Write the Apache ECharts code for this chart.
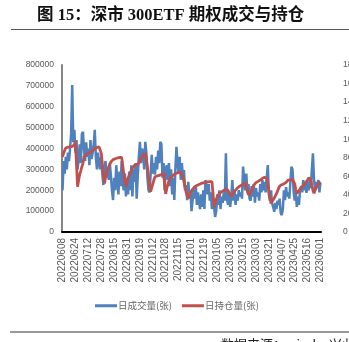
<!DOCTYPE html>
<html><head><meta charset="utf-8">
<script src="https://cdn.jsdelivr.net/npm/echarts@6/dist/echarts.min.js"></script>
<style>html,body{margin:0;padding:0;background:#fff;}#c{width:349px;height:342px;}</style>
</head><body><div id="c"></div>
<script>
var titleText = '图 15：深市 300ETF 期权成交与持仓';
var sourceText = '数据来源：wind，兴业证券研究所';
var seriesNames = ['日成交量(张)', '日持仓量(张)'];
var dates = [
'20220608','20220609','20220610','20220613','20220614','20220615','20220616','20220617','20220620','20220621','20220622','20220623','20220624','20220627','20220628','20220629','20220630',
'20220701','20220704','20220705','20220706','20220707','20220708','20220711','20220712','20220713','20220714','20220715','20220718','20220719','20220720','20220721','20220722','20220725','20220726','20220727','20220728','20220729',
'20220801','20220802','20220803','20220804','20220805','20220808','20220809','20220810','20220811','20220812','20220815','20220816','20220817','20220818','20220819','20220822','20220823','20220824','20220825','20220826','20220829','20220830','20220831',
'20220901','20220902','20220905','20220906','20220907','20220908','20220909','20220913','20220914','20220915','20220916','20220919','20220920','20220921','20220922','20220923','20220926','20220927','20220928','20220929','20220930',
'20221010','20221011','20221012','20221013','20221014','20221017','20221018','20221019','20221020','20221021','20221024','20221025','20221026','20221027','20221028','20221031',
'20221101','20221102','20221103','20221104','20221107','20221108','20221109','20221110','20221111','20221114','20221115','20221116','20221117','20221118','20221121','20221122','20221123','20221124','20221125','20221128','20221129','20221130',
'20221201','20221202','20221205','20221206','20221207','20221208','20221209','20221212','20221213','20221214','20221215','20221216','20221219','20221220','20221221','20221222','20221223','20221226','20221227','20221228','20221229','20221230',
'20230103','20230104','20230105','20230106','20230109','20230110','20230111','20230112','20230113','20230116','20230117','20230118','20230119','20230120','20230130','20230131',
'20230201','20230202','20230203','20230206','20230207','20230208','20230209','20230210','20230213','20230214','20230215','20230216','20230217','20230220','20230221','20230222','20230223','20230224','20230227','20230228',
'20230301','20230302','20230303','20230306','20230307','20230308','20230309','20230310','20230313','20230314','20230315','20230316','20230317','20230320','20230321','20230322','20230323','20230324','20230327','20230328','20230329','20230330','20230331',
'20230403','20230404','20230406','20230407','20230410','20230411','20230412','20230413','20230414','20230417','20230418','20230419','20230420','20230421','20230424','20230425','20230426','20230427','20230428',
'20230504','20230505','20230508','20230509','20230510','20230511','20230512','20230515','20230516','20230517','20230518','20230519','20230522','20230523','20230524','20230525','20230526','20230529','20230530','20230531',
'20230601'
];
var volume = [
200000,340000,280000,360000,300000,380000,340000,400000,470000,
704000,
430000,490000,380000,440000,300000,
350000,420000,330000,470000,480000,390000,
340000,430000,360000,400000,320000,440000,350000,380000,
420000,489000,360000,
300000,380000,330000,300000,360000,280000,
225000,
300000,340000,260000,310000,250000,330000,270000,200000,
153000,
260000,200000,320000,240000,180000,290000,220000,340000,230000,
200000,280000,170000,260000,
180000,290000,200000,320000,170000,300000,240000,330000,160000,270000,
360000,432000,330000,400000,380000,
300000,432000,380000,
260000,200000,190000,280000,
370000,280000,330000,275000,360000,300000,
390000,330000,432000,420000,260000,
330000,200000,300000,320000,250000,330000,
220000,300000,180000,260000,153000,
300000,408000,330000,
280000,360000,250000,330000,270000,
297000,200000,225000,153000,
240000,180000,200000,
100000,91000,
200000,160000,220000,130000,190000,150000,
110000,180000,120000,200000,110000,
249000,215000,180000,230000,
150000,190000,110000,160000,120000,
72000,100000,
180000,130000,200000,110000,170000,140000,190000,
150000,377000,
160000,130000,190000,120000,170000,
249000,150000,
200000,130000,180000,150000,200000,170000,190000,
160000,313000,
250000,200000,280000,190000,230000,
160000,150000,220000,170000,
230000,140000,210000,170000,190000,150000,
230000,190000,249000,200000,240000,190000,260000,
321000,
180000,150000,200000,137000,
120000,97000,140000,110000,
150000,130000,160000,
91000,81000,110000,
200000,153000,215000,170000,190000,160000,240000,
313000,300000,200000,
150000,190000,120000,170000,130000,200000,
220000,190000,249000,200000,230000,187000,240000,200000,249000,
210000,300000,
377000,
250000,200000,240000,
210000,249000,190000,235000
];
var openInterest = [
810000,850000,880000,905000,918000,
915000,920000,918000,925000,922000,
922000,940000,972000,730000,
488000,
560000,620000,660000,704000,
740000,810000,820000,835000,845000,850000,
855000,862000,870000,878000,884000,
895000,905000,913000,915000,918000,920000,
850000,740000,620000,524000,
590000,640000,680000,704000,
730000,755000,776000,
780000,785000,790000,794000,
798000,800000,803000,805000,805000,
720000,620000,540000,488000,
540000,580000,610000,632000,
660000,690000,711000,
718000,722000,728000,735000,740000,
770000,795000,810000,
825000,840000,848000,
790000,700000,600000,500000,434000,
480000,520000,560000,596000,
600000,604000,608000,610000,614000,
620000,626000,632000,
520000,410000,
470000,510000,550000,578000,
590000,600000,612000,622000,632000,
635000,638000,640000,642000,644000,644000,
600000,540000,480000,430000,390000,362000,
390000,420000,440000,460000,475000,488000,
495000,500000,505000,512000,518000,524000,
528000,530000,534000,536000,538000,540000,542000,542000,545000,542000,
420000,272000,
320000,350000,380000,400000,416000,
425000,432000,440000,448000,455000,462000,470000,
450000,420000,395000,380000,
400000,420000,440000,455000,465000,478000,488000,
495000,502000,510000,515000,520000,524000,
490000,440000,400000,380000,
420000,450000,480000,505000,524000,
532000,540000,546000,552000,560000,
570000,578000,585000,590000,596000,
580000,520000,440000,370000,308000,
330000,350000,365000,380000,
410000,440000,470000,495000,
505000,510000,515000,520000,524000,
535000,548000,560000,
562000,563000,565000,566000,567000,
520000,460000,416000,
430000,445000,460000,475000,488000,
500000,515000,530000,542000,
560000,585000,603000,
560000,500000,450000,416000,
450000,480000,505000,520000,530000,542000
];
var leftMax = 800000, leftStep = 100000;
var rightMax = 1800000, rightStep = 200000;

var chart = echarts.init(document.getElementById('c'), null, {renderer: 'canvas'});
var axisFont = 'Liberation Sans, Arial, sans-serif';
function plain(v) { return String(v); }
chart.setOption({
  animation: false,
  backgroundColor: '#ffffff',
  title: {
    text: titleText, left: 32, top: 2,
    textStyle: {fontFamily: '"Liberation Serif", "Noto Sans CJK SC", serif', fontWeight: 'bold', fontSize: 16.5, color: '#111'}
  },
  graphic: [
    {type: 'line', shape: {x1: 11, y1: 29.5, x2: 349, y2: 29.5}, style: {stroke: '#555', lineWidth: 1.2}},
    {type: 'line', shape: {x1: 10, y1: 332, x2: 349, y2: 332}, style: {stroke: '#333', lineWidth: 1.2}},
    {type: 'text', left: 221, top: 338, style: {text: sourceText, font: '13px "Noto Sans CJK SC", sans-serif', fill: '#222'}}
  ],
  legend: {
    left: 90, top: 296, itemWidth: 22, itemHeight: 3, itemGap: 10,
    icon: 'rect',
    textStyle: {fontFamily: '"Noto Sans CJK SC", sans-serif', fontSize: 9.5, color: '#666', padding: [0, 0, 0, -4]},
    data: seriesNames
  },
  grid: {left: 62, right: 28, top: 65, bottom: 110, containLabel: false, outerBoundsMode: 'none'},
  xAxis: {
    type: 'category', data: dates, boundaryGap: true,
    axisLine: {lineStyle: {color: '#000', width: 2}},
    axisTick: {show: false},
    axisLabel: {interval: 11, rotate: 90, margin: 6, fontSize: 10, fontFamily: axisFont, color: '#595959'}
  },
  yAxis: [
    {
      type: 'value', min: 0, max: leftMax, interval: leftStep,
      axisLine: {show: true, lineStyle: {color: '#868686', width: 2}},
      axisTick: {show: false}, splitLine: {show: false},
      axisLabel: {margin: 8, fontSize: 8.5, fontFamily: axisFont, color: '#595959', formatter: plain}
    },
    {
      type: 'value', min: 0, max: rightMax, interval: rightStep, position: 'right',
      axisLine: {show: false}, axisTick: {show: false}, splitLine: {show: false},
      axisLabel: {margin: 22, align: 'left', fontSize: 8.5, fontFamily: axisFont, color: '#595959', formatter: plain}
    }
  ],
  series: [
    {name: seriesNames[0], type: 'line', data: volume, yAxisIndex: 0, showSymbol: false, symbol: 'none',
     lineStyle: {color: '#4F81BD', width: 2.5}, itemStyle: {color: '#4F81BD'}},
    {name: seriesNames[1], type: 'line', data: openInterest, yAxisIndex: 1, showSymbol: false, symbol: 'none',
     lineStyle: {color: '#C0504D', width: 2.8}, itemStyle: {color: '#C0504D'}}
  ]
});
</script></body></html>
